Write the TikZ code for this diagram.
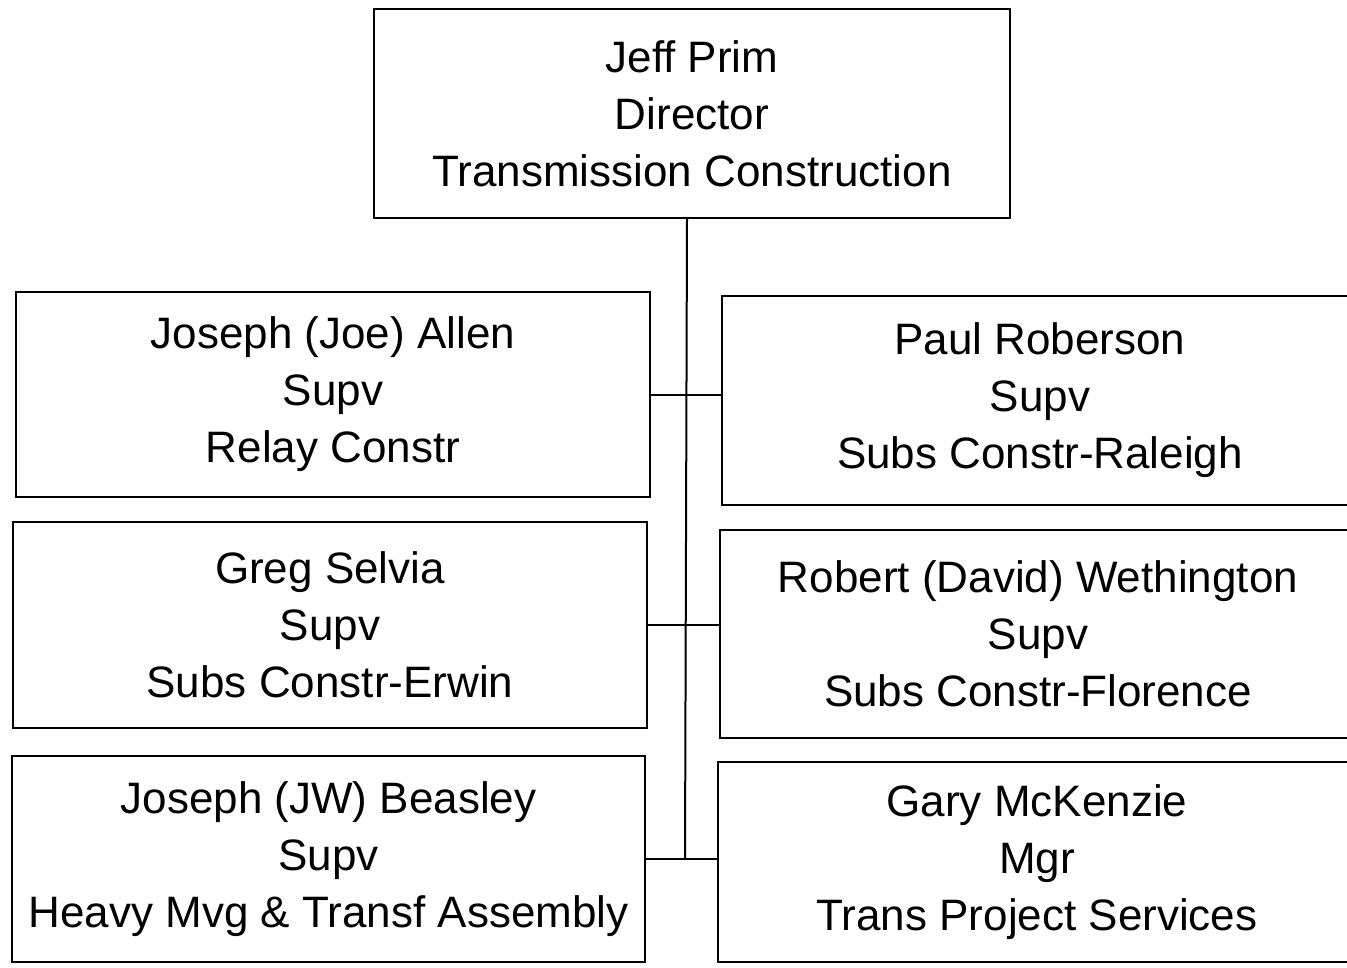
\documentclass[tikz,border=0pt]{standalone}
\usepackage{fontspec}
\setmainfont{Liberation Sans}
\begin{document}
\begin{tikzpicture}[x=1pt,y=-1pt,
  orgbox/.style={draw=black,line width=2.2pt,rectangle,align=center,inner sep=0pt,
    font=\fontsize{44}{57}\selectfont},
  link/.style={draw=black,line width=2pt}]
\useasboundingbox (0,0) rectangle (1347,967);
\clip (0,0) rectangle (1347,967);
\node[orgbox,minimum width=636pt,minimum height=209pt] (top) at (692,113.5)
  {Jeff Prim\\Director\\Transmission Construction};
\node[orgbox,minimum width=634pt,minimum height=205pt] (l1) at (333,394.5)
  {Joseph (Joe) Allen\\Supv\\Relay Constr};
\node[orgbox,minimum width=636pt,minimum height=209pt] (r1) at (1040,400.5)
  {Paul Roberson\\Supv\\Subs Constr-Raleigh};
\node[orgbox,minimum width=634pt,minimum height=206pt] (l2) at (330,625)
  {Greg Selvia\\Supv\\Subs Constr-Erwin};
\node[orgbox,minimum width=636pt,minimum height=208pt] (r2) at (1038,634)
  {Robert (David) Wethington\\Supv\\Subs Constr-Florence};
\node[orgbox,minimum width=633pt,minimum height=206pt] (l3) at (328.5,859)
  {Joseph (JW) Beasley\\Supv\\Heavy Mvg \& Transf Assembly};
\node[orgbox,minimum width=638pt,minimum height=200pt] (r3) at (1037,862)
  {Gary McKenzie\\Mgr\\Trans Project Services};
\coordinate (trunkend) at (685,859);
\draw[link] (top.south -| 687,0) -- (trunkend);
\draw[link] (l1.east) -- (l1.east -| r1.west);
\draw[link] (l2.east) -- (l2.east -| r2.west);
\draw[link] (l3.east) -- (l3.east -| r3.west);
\end{tikzpicture}
\end{document}
